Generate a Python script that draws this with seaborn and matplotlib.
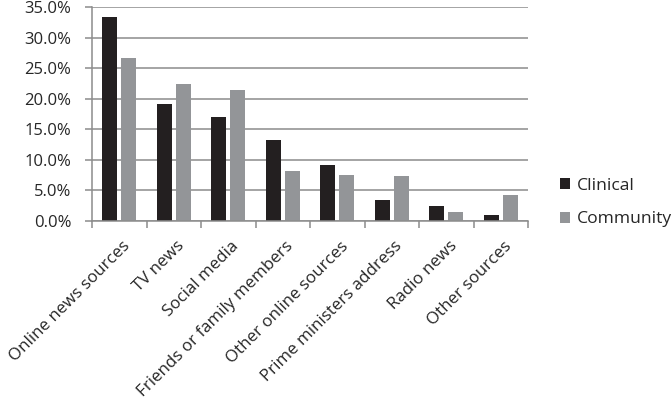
import matplotlib
matplotlib.use("Agg")
import matplotlib.pyplot as plt
import seaborn as sns
import pandas as pd
from matplotlib.ticker import FuncFormatter, FixedLocator
from matplotlib.patches import Patch

categories = ["Online news sources", "TV news", "Social media", "Friends or family members",
              "Other online sources", "Prime ministers address", "Radio news", "Other sources"]
clinical = [33.4, 19.2, 17.0, 13.3, 9.2, 3.5, 2.5, 1.0]
community = [26.6, 22.4, 21.5, 8.1, 7.6, 7.3, 1.4, 4.3]
series = ["Clinical", "Community"]
colors = ["#231f20", "#939598"]

df = pd.DataFrame({
    "Source": categories * 2,
    "Group": [series[0]] * len(categories) + [series[1]] * len(categories),
    "Value": clinical + community,
})

sns.set_theme(style="white")
plt.rcParams['font.family'] = ['Open Sans', 'DejaVu Sans']

fig = plt.figure(figsize=(6.71, 4.01), dpi=100)
ax = fig.add_axes([92/671, 1-221/401, (528-92)/671, (221-7)/401])

sns.barplot(data=df, x="Source", y="Value", hue="Group", hue_order=series,
            order=categories, palette=colors, width=0.68, gap=0.19,
            saturation=1, ax=ax, legend=False, linewidth=0)

ax.set_ylim(0, 35)
ax.set_xlim(-0.5, len(categories) - 0.5)
ax.yaxis.set_major_locator(FixedLocator([i * 5 for i in range(8)]))
ax.yaxis.set_major_formatter(FuncFormatter(lambda v, p: f"{v:.1f}%"))
ax.grid(axis="y", color="#8c8c8c", linewidth=1.1)
ax.set_axisbelow(True)
ax.set_xlabel("")
ax.set_ylabel("")

for s in ["top", "right"]:
    ax.spines[s].set_visible(False)
for s in ["left", "bottom"]:
    ax.spines[s].set_color("#8c8c8c")
    ax.spines[s].set_linewidth(1.1)

# Excel-style ticks between categories
ax.set_xticks([i - 0.5 for i in range(len(categories) + 1)], minor=False)
ax.set_xticklabels([])
ax.tick_params(axis="x", which="major", length=5, width=1.1, color="#8c8c8c", direction="out", bottom=True)
ax.tick_params(axis="y", length=5, width=1.1, color="#8c8c8c", direction="out", left=True,
               labelsize=12, labelcolor="#262626", pad=10)

for i, lab in enumerate(categories):
    ax.text(i + 0.05, -2.8, lab, rotation=45, ha="right", va="top", rotation_mode="anchor",
            fontsize=12.2, color="#262626", transform=ax.transData, clip_on=False)

handles = [Patch(facecolor=c, edgecolor="none") for c in colors]
fig.legend(handles, series, loc="upper left", bbox_to_anchor=(544/671, 1-162/401),
           frameon=False, fontsize=12.6, labelspacing=1.0, handlelength=0.6, handleheight=0.6,
           handletextpad=0.4, labelcolor="#262626")

fig.savefig("out.png", dpi=100)
